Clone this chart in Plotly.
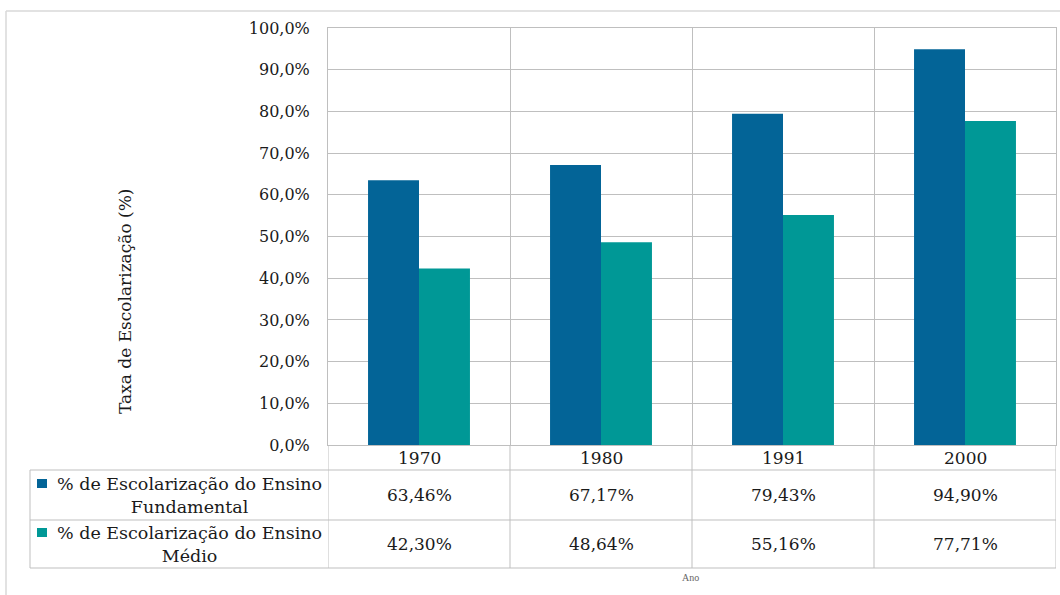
import plotly.graph_objects as go

years = ["1970", "1980", "1991", "2000"]
fundamental = [63.46, 67.17, 79.43, 94.90]
medio = [42.30, 48.64, 55.16, 77.71]
series_names = ["% de Escolarização do Ensino<br>Fundamental",
                "% de Escolarização do Ensino<br>Médio"]
y_title = "Taxa de Escolarização (%)"
x_title = "Ano"
y_ticks = [i / 10 for i in range(11)]

W, H = 1060, 595
BLUE = "#036497"
TEAL = "#009896"
GRID = "#BFBFBF"
FONT = "DejaVu Serif, serif"
SMALLFONT = "Liberation Serif, serif"

def px(x):
    return x / W

def py(y):
    return 1 - y / H

# layout positions (pixels)
PL, PR, PT, PB = 328, 1056, 28, 445
ROW0, ROW1, ROW2 = 470, 520, 568
TABLE_LEFT = 30

idx = list(range(len(years)))

fig = go.Figure()
fig.add_trace(go.Bar(x=years, y=[v / 100 for v in fundamental], marker_color=BLUE,
                     marker_line_width=0, name="Fundamental", showlegend=False))
fig.add_trace(go.Bar(x=years, y=[v / 100 for v in medio], marker_color=TEAL,
                     marker_line_width=0, name="Médio", showlegend=False))

shapes = []
annotations = []

# outer chart border (left/top visible)
shapes.append(dict(type="line", xref="paper", yref="paper", x0=px(6), x1=1.0,
                   y0=py(11), y1=py(11), line=dict(color="#D9D9D9", width=1.5)))
shapes.append(dict(type="line", xref="paper", yref="paper", x0=px(6), x1=px(6),
                   y0=py(11), y1=0, line=dict(color="#D9D9D9", width=1.5)))

# vertical lines extending from plot area through table
for i in range(len(years) + 1):
    shapes.append(dict(type="line", xref="x", yref="paper", x0=i - 0.5, x1=i - 0.5,
                       y0=py(PB), y1=py(ROW2), line=dict(color=GRID, width=1)))
# table horizontal lines
for yy in (ROW0, ROW1, ROW2):
    shapes.append(dict(type="line", xref="paper", yref="paper", x0=px(TABLE_LEFT), x1=px(PR),
                       y0=py(yy), y1=py(yy), line=dict(color=GRID, width=1)))
shapes.append(dict(type="line", xref="paper", yref="paper", x0=px(TABLE_LEFT), x1=px(TABLE_LEFT),
                   y0=py(ROW0), y1=py(ROW2), line=dict(color=GRID, width=1)))

# year header labels
for i, yr in zip(idx, years):
    annotations.append(dict(x=i, xref="x", y=py((PB + ROW0) / 2), yref="paper", text=yr,
                            showarrow=False, font=dict(family=FONT, size=17, color="#1a1a1a"),
                            xanchor="center", yanchor="middle"))

def fmt(v):
    return f"{v:.2f}%".replace(".", ",")

rows = [(fundamental, BLUE, series_names[0], (ROW0 + ROW1) / 2),
        (medio, TEAL, series_names[1], (ROW1 + ROW2) / 2)]
for vals, col, name, yc in rows:
    for i, v in zip(idx, vals):
        annotations.append(dict(x=i, xref="x", y=py(yc), yref="paper", text=fmt(v),
                                showarrow=False, font=dict(family=FONT, size=17, color="#1a1a1a"),
                                xanchor="center", yanchor="middle"))
    annotations.append(dict(x=px(189), xref="paper", y=py(yc), yref="paper", text=name,
                            showarrow=False, align="center",
                            font=dict(family=FONT, size=17.5, color="#1a1a1a"),
                            xanchor="center", yanchor="middle"))
    shapes.append(dict(type="rect", xref="paper", yref="paper",
                       x0=px(37), x1=px(47), y0=py(yc - 16), y1=py(yc - 7),
                       fillcolor=col, line=dict(width=0)))

# axis titles
annotations.append(dict(x=px(125), xref="paper", y=py(302), yref="paper", text=y_title,
                        textangle=-90, showarrow=False,
                        font=dict(family=FONT, size=17, color="#1a1a1a"),
                        xanchor="center", yanchor="middle"))
annotations.append(dict(x=px(690), xref="paper", y=py(577), yref="paper", text=x_title,
                        showarrow=False, font=dict(family=SMALLFONT, size=10, color="#666"),
                        xanchor="center", yanchor="middle"))

fig.update_layout(
    template="none",
    width=W, height=H,
    margin=dict(l=0, r=0, t=0, b=0, pad=0, autoexpand=False),
    paper_bgcolor="white", plot_bgcolor="white",
    separators=",.",
    barmode="group", bargap=0.44, bargroupgap=0,
    hovermode=False,
    shapes=shapes, annotations=annotations,
    xaxis=dict(domain=[px(PL), px(PR)], type="category", tickson="boundaries",
               range=[-0.5, len(years) - 0.5], automargin=False,
               showgrid=True, gridcolor=GRID, gridwidth=1, showticklabels=False,
               showline=True, linecolor=GRID, mirror=True, ticks="", zeroline=False),
    yaxis=dict(domain=[py(PB), py(PT)], range=[0, 1], tickvals=y_ticks, tickformat=".1%",
               automargin=False,
               showgrid=True, gridcolor=GRID, gridwidth=1, showline=True, linecolor=GRID,
               mirror=True, ticks="", zeroline=False, ticklabelstandoff=14,
               tickfont=dict(family=FONT, size=16, color="#1a1a1a")),
)

fig.write_html("out.html", config={"displayModeBar": False},
               post_script="document.body.style.margin='0';document.body.style.overflow='hidden';")
